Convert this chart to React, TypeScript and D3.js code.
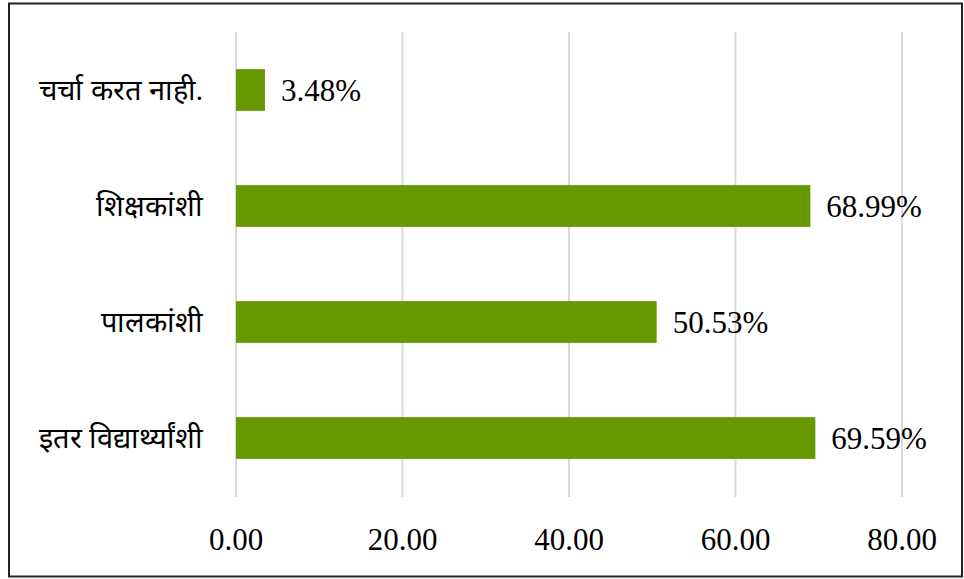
import React from "react";
import * as d3 from "d3";

const categories = ["चर्चा करत नाही.", "शिक्षकांशी", "पालकांशी", "इतर विद्यार्थ्यांशी"];
const values = [3.48, 68.99, 50.53, 69.59];
const ticks = [0, 20, 40, 60, 80];

const W = 964;
const H = 579;

export default function App() {
  const x = d3.scaleLinear().domain([0, 80]).range([236, 902]);
  const y = d3.scaleBand<string>().domain(categories).range([32, 496]).paddingInner(0.64).paddingOuter(0.32);
  const numFont = { fontFamily: "Liberation Serif, Times New Roman, DejaVu Serif, serif", fontSize: 31 };
  const catFont = { fontFamily: "Liberation Serif, serif", fontSize: 29 };
  return (
    <svg width={W} height={H} style={{ position: "absolute", left: 0, top: 0 }}>
      <rect x={9} y={3.5} width={953} height={573} fill="#fff" stroke="#222" strokeWidth={2} />
      {ticks.map((t) => (
        <line key={t} x1={x(t)} x2={x(t)} y1={32} y2={497} stroke="#d9d9d9" strokeWidth={2} />
      ))}
      {categories.map((c, i) => (
        <g key={c}>
          <rect x={x(0)} y={y(c)} width={x(values[i]) - x(0)} height={y.bandwidth()} fill="#669900" />
          <text x={x(values[i]) + 16} y={(y(c) as number) + y.bandwidth() / 2} dominantBaseline="central" style={numFont} fill="#000">
            {values[i].toFixed(2) + "%"}
          </text>
          <text x={203} y={(y(c) as number) + y.bandwidth() / 2} dominantBaseline="central" textAnchor="end" style={catFont} fill="#000">
            {c}
          </text>
        </g>
      ))}
      {ticks.map((t) => (
        <text key={t} x={x(t)} y={539} dominantBaseline="central" textAnchor="middle" style={numFont} fill="#000">
          {t.toFixed(2)}
        </text>
      ))}
    </svg>
  );
}
